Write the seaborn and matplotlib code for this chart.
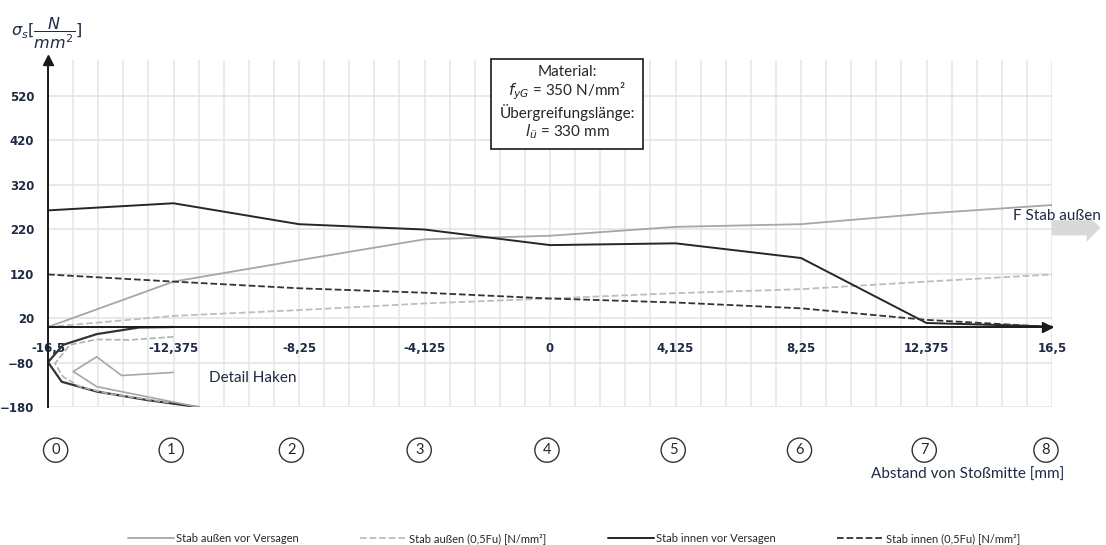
import numpy as np
import pandas as pd
import matplotlib.pyplot as plt
import seaborn as sns

# measuring points along the lap splice (mm, scaled)
pos = [-16.5, -12.375, -8.25, -4.125, 0, 4.125, 8.25, 12.375, 16.5]
pos_labels = ["-16,5", "-12,375", "-8,25", "-4,125", "0", "4,125", "8,25", "12,375", "16,5"]
point_ids = ["0", "1", "2", "3", "4", "5", "6", "7", "8"]
point_x = [-16.25, -12.45, -8.5, -4.3, -0.1, 4.05, 8.2, 12.3, 16.3]

aussen_vor = [0, 102, 150, 197, 205, 225, 231, 255, 274]
aussen_05 = [0, 25, 38, 53, 64, 76, 85, 102, 118]
innen_vor = [262, 278, 231, 219, 184, 188, 155, 9, 1]
innen_05 = [118, 102, 87, 77, 64, 55, 42, 16, 0]

# hook detail sketch
hook_outer_x = [-12.4, -13.5, -14.9, -16.0, -16.5, -16.05, -14.9, -13.25, -11.55]
hook_outer_y = [0, -1, -16, -40, -79, -123, -145, -164, -180]
hook_dash_x = [-12.38, -13.8, -14.9, -15.78, -16.27, -16.0, -15.45, -14.5, -12.5]
hook_dash_y = [-22, -29, -28, -40, -82, -112, -134, -150, -170]
hook_bar_x = [-12.38, -14.08, -14.9, -15.67, -14.9, -11.55]
hook_bar_y = [-102, -109, -67, -100, -134, -180]

yticks = [-180, -80, 20, 120, 220, 320, 420, 520]

sns.set_style("white")
plt.rcParams['font.family'] = ['DejaVu Sans']

fig = plt.figure(figsize=(11.06, 5.45), dpi=100)
ax = fig.add_axes([0.0434, 0.253, 0.9078, 0.637])

series = [
    (aussen_vor, "Stab außen vor Versagen", "#a6a6a6", "-", 1.3),
    (aussen_05, "Stab außen (0,5Fu) [N/mm²]", "#bdbdbd", "--", 1.3),
    (innen_vor, "Stab innen vor Versagen", "#262626", "-", 1.4),
    (innen_05, "Stab innen (0,5Fu) [N/mm²]", "#333333", "--", 1.3),
]
for vals, name, col, ls, lw in series:
    df = pd.DataFrame({"x": pos, "y": vals})
    sns.lineplot(data=df, x="x", y="y", ax=ax, color=col, linestyle=ls, lw=lw, label=name)

hooks = [
    (hook_outer_x, hook_outer_y, "#333333", "-", 1.6),
    (hook_dash_x, hook_dash_y, "#b0b0b0", "--", 1.2),
    (hook_bar_x, hook_bar_y, "#a6a6a6", "-", 1.2),
]
for hx, hy, col, ls, lw in hooks:
    df = pd.DataFrame({"x": hx, "y": hy})
    sns.lineplot(data=df, x="x", y="y", ax=ax, color=col, linestyle=ls, lw=lw,
                 sort=False, estimator=None, legend=False)

ax.set_xlim(-16.5, 16.5)
ax.set_ylim(-180, 600)
ax.set_xticks(pos)
ax.set_xticklabels(pos_labels)
ax.set_xticks(np.arange(-16.5, 16.51, 0.825), minor=True)
ax.set_yticks(yticks)
ax.set_yticks(np.arange(-180, 581, 20), minor=True)
ax.set_xlabel("")
ax.set_ylabel("")

# grid: every minor x step, major y steps
for gx in np.arange(-16.5, 16.51, 0.825):
    ax.axvline(gx, color="#e6e6e6", lw=1.1, zorder=0)
for gy in yticks:
    ax.axhline(gy, color="#e2e2e2", lw=1.1, zorder=0)

for s in ["top", "right"]:
    ax.spines[s].set_visible(False)
ax.spines["bottom"].set_position(("data", 0))
ax.spines["bottom"].set_linewidth(1.4)
ax.spines["left"].set_linewidth(1.4)
ax.spines["bottom"].set_color("#1a1a1a")
ax.spines["left"].set_color("#1a1a1a")

ax.tick_params(axis="x", which="major", direction="inout", length=10, width=1.3, pad=6,
               labelsize=8.5, labelcolor="#1f2a44")
ax.tick_params(axis="x", which="minor", direction="inout", length=7, width=1.2)
ax.tick_params(axis="y", which="major", direction="inout", length=8, width=1.2, pad=6,
               labelsize=8.5, labelcolor="#1f2a44")
ax.tick_params(axis="y", which="minor", direction="in", length=4, width=1.0)
for lab in ax.get_xticklabels() + ax.get_yticklabels():
    lab.set_fontweight("bold")

# axis arrow heads
ax.plot([0], [1], marker="^", color="#1a1a1a", ms=7, transform=ax.transAxes, clip_on=False)
ax.plot([0.995], [0], marker=">", color="#1a1a1a", ms=7, transform=ax.get_yaxis_transform(),
        clip_on=False)

fig.text(0.01, 0.94, r"$\sigma_s[\dfrac{N}{mm^2}]$", fontsize=11.5, color="#1f2a44", va="center")

ax.text(-11.2, -115, "Detail Haken", fontsize=11, family="Lato", color="#1f2a44", va="center")

ax.text(0.517, 0.876,
        "Material:\n$f_{yG}$ = 350 N/mm²\nÜbergreifungslänge:\n$l_{ü}$ = 330 mm",
        transform=ax.transAxes, ha="center", va="center", fontsize=11, family="Lato",
        linespacing=1.1,
        bbox=dict(boxstyle="square,pad=0.55", fc="white", ec="#1a1a1a", lw=1.2))

# circled measuring point numbers below the axis
for px, pid in zip(point_x, point_ids):
    ax.text(px, -0.124, pid, transform=ax.get_xaxis_transform(), ha="center", va="center",
            fontsize=10.5, family="Lato", clip_on=False,
            bbox=dict(boxstyle="circle,pad=0.35", fc="white", ec="#333333", lw=1.0))

ax.text(1.012, -0.196, "Abstand von Stoßmitte [mm]", transform=ax.transAxes, ha="right",
        va="center", fontsize=11, family="Lato", color="#1f2a44")

# force arrow
fig.text(0.956, 0.604, "F Stab außen", ha="center", va="center", fontsize=11, family="Lato",
         color="#1f2a44")
ax.annotate("", xy=(0.995, 0.582), xytext=(0.951, 0.582), xycoords="figure fraction",
            textcoords="figure fraction",
            arrowprops=dict(arrowstyle="simple,head_width=2.0,head_length=1.0,tail_width=1.1",
                            mutation_scale=10, color="#d9d9d9", lw=0, shrinkA=0, shrinkB=0))

ax.legend_.remove()
handles, labels = ax.get_legend_handles_labels()
fig.legend(handles[:4], labels[:4], loc="center", bbox_to_anchor=(0.519, 0.012), ncol=4,
           frameon=False, prop={"family": "Lato", "size": 8}, columnspacing=5.5,
           handlelength=4.2, handletextpad=0.2)

fig.savefig("out.png", dpi=100)
